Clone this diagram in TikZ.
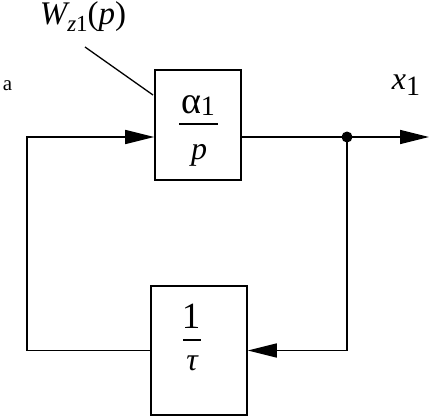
\documentclass[tikz,border=0pt]{standalone}
\usepackage{fontspec}
\setmainfont{Liberation Serif}
\usetikzlibrary{arrows.meta}
\begin{document}
\begin{tikzpicture}[x=1pt,y=-1pt,line width=1.6pt,
  blk/.style={draw,line width=1.6pt,inner sep=0pt},
  arr/.style={-{Triangle[length=29pt,width=14pt]}},
  txt/.style={inner sep=0pt,anchor=base},
  big/.style={font=\fontsize{33}{33}\selectfont}]
\useasboundingbox (0,0) rectangle (430,417);
% blocks
\node[blk,minimum width=86pt,minimum height=110pt] (top) at (198,125) {};
\node[blk,minimum width=96pt,minimum height=129pt] (bot) at (199,350.5) {};
% top fraction
\node[txt,font=\fontsize{38}{38}\selectfont] (num) at (198,113) {α\raisebox{-2pt}{\fontsize{28}{28}\selectfont 1}};
\node[txt,font=\fontsize{32}{32}\selectfont] (den) at (199,159) {\itshape p};
\draw[line width=1.5pt] (179,124) coordinate (b1) -- (218,124) coordinate (b2);
% bottom fraction
\node[txt,font=\fontsize{37}{37}\selectfont] (one) at (191,328) {1};
\node[txt,font=\fontsize{32}{32}\selectfont] (tau) at (192,370) {\itshape τ};
\draw[line width=1.5pt] (183,340) coordinate (b3) -- (201,340) coordinate (b4);
% labels
\node[txt,big,anchor=base west] (W) at (39,25) {\itshape W\raisebox{-7pt}{\fontsize{23}{23}\selectfont z\upshape 1}\upshape(\itshape p\upshape)};
\node[txt,font=\fontsize{32}{32}\selectfont,anchor=base west] (x1) at (391,89) {\itshape x\raisebox{-6pt}{\upshape\fontsize{28}{28}\selectfont 1}};
\node[txt,anchor=base west,font=\fontsize{21}{21}\selectfont] (a) at (2,91) {a};
% leader
\coordinate (lead) at (85,47);
\draw[line width=1.3pt] (lead) -- (153,95);
% connectors
\coordinate (dot) at (347,137);
\coordinate (out) at (429,137);
\coordinate (lc) at (27,137);
\draw[arr] (top.east |- dot) -- (out);
\fill (dot) circle (5.5pt);
\draw[arr] (dot) -- (dot |- bot.east) -- (bot.east);
\draw[arr] (bot.west) -- (lc |- bot.west) -- (lc) -- (top.west |- dot);
\end{tikzpicture}
\end{document}
